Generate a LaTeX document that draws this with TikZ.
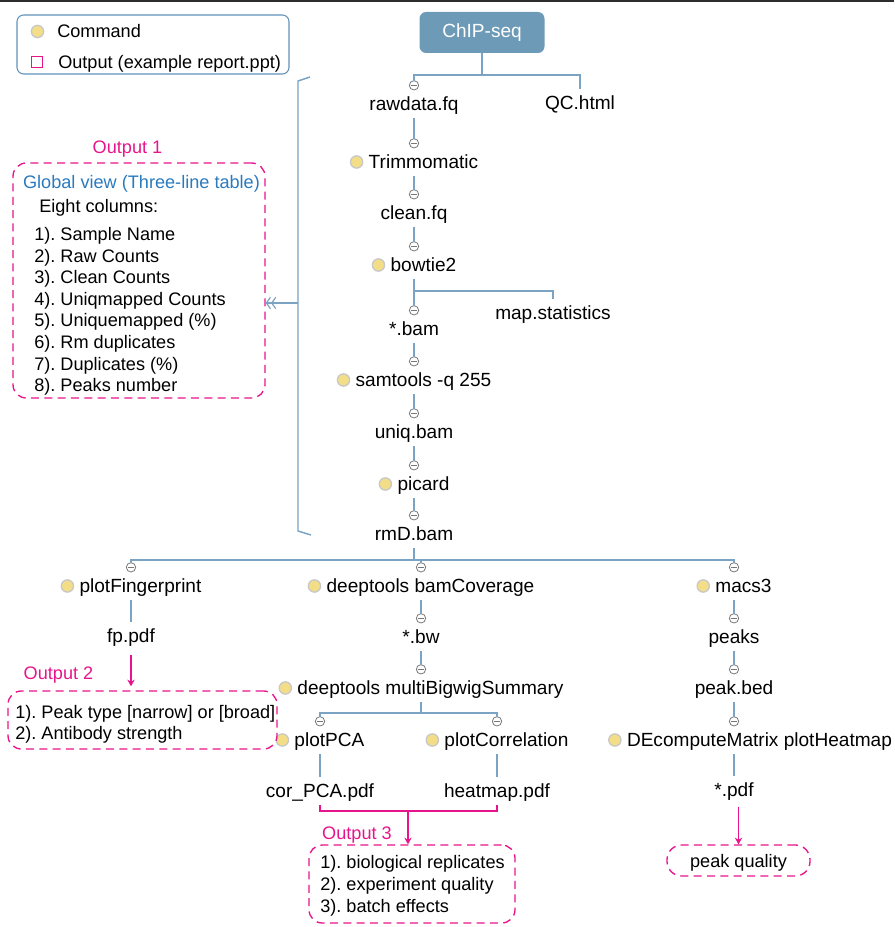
\documentclass[tikz,border=0pt]{standalone}
\usepackage{fontspec}
\setmainfont{Liberation Sans}
\usetikzlibrary{arrows.meta, positioning}
\definecolor{lineblue}{RGB}{122,163,196}
\definecolor{rootblue}{RGB}{109,154,183}
\definecolor{legblue}{RGB}{96,146,186}
\definecolor{foldgray}{RGB}{120,120,120}
\definecolor{dotyellow}{RGB}{243,222,135}
\definecolor{dotgray}{RGB}{200,200,200}
\definecolor{outpink}{RGB}{232,20,140}
\definecolor{titleblue}{RGB}{42,122,190}
\definecolor{rulegray}{RGB}{45,45,45}
\newcommand*{\cmdtext}[1]{\tikz[baseline={(0pt,-5pt)}]\node[dot]{};\hspace{4pt}#1}
\frenchspacing

\begin{document}
\begin{tikzpicture}[x=0.75pt, y=-0.75pt, on grid,
    every node/.style={font=\fontsize{14.3}{17}\selectfont},
    leaf/.style={inner sep=0pt, text height=10pt, text depth=0pt, outer ysep=5.5pt},
    fold/.style={circle, draw=foldgray, fill=white, line width=0.6pt, minimum size=7pt,
      inner sep=0pt, outer sep=0pt, text height=0pt, text depth=0pt,
      path picture={\draw[foldgray, line width=0.6pt] ([xshift=-2.4pt]path picture bounding box.center)
        -- ([xshift=2.4pt]path picture bounding box.center);}},
    dot/.style={circle, fill=dotyellow, draw=dotgray, line width=1pt, minimum size=9.2pt,
      inner sep=0pt, text height=0pt, text depth=0pt},
    conn/.style={draw=lineblue, line width=1.1pt},
    outbox/.style={draw=outpink, line width=1pt, dash pattern=on 6pt off 4pt, rounded corners=10pt, inner sep=0pt},
    outtag/.style={text=outpink, inner sep=0pt, font=\fontsize{13.6}{16}\selectfont},
    toout/.style={draw=outpink, line width=0.9pt, -{Stealth[length=5pt,width=5.5pt]}},
    boxtxt/.style={inner sep=0pt, anchor=west, text height=10pt, text depth=0pt, font=\fontsize{13.6}{16}\selectfont}]
  \useasboundingbox (0,0) rectangle (894,927);
  \draw[line width=1.8pt, rulegray] (0,1.2) -- (894,1.2);

  % legend
  \node[draw=legblue, line width=0.8pt, rounded corners=5pt, minimum width=204pt, minimum height=44.25pt, inner sep=0pt] (legend) at (153,44.5) {};
  \node[dot] (l_dot) at (37.5,31.5) {};
  \node[boxtxt] (l_cmd) at (57,31) {Command};
  \node[draw=outpink, line width=0.7pt, minimum size=8pt, inner sep=0pt] (l_sq) at (37,62) {};
  \node[boxtxt] (l_out) at (58,62) {Output (example report.ppt)};

  % main column
  \node[fill=rootblue, rounded corners=5pt, minimum width=93.75pt, minimum height=30.75pt, inner sep=0pt, text=white] (root) at (482,32.5) {ChIP-seq};
  \node[leaf] (n_raw)   at (414,104) {rawdata.fq};
  \node[leaf] (n_qc)    at (580,103) {QC.html};
  \node[leaf] (n_trim)  at (414,162) {\cmdtext{Trimmomatic}};
  \node[leaf] (n_clean) at (414,213) {clean.fq};
  \node[leaf] (n_bt)    at (414,265) {\cmdtext{bowtie2}};
  \node[leaf] (n_map)   at (553,313) {map.statistics};
  \node[leaf] (n_bam)   at (414,329) {*.bam};
  \node[leaf] (n_sam)   at (414,380) {\cmdtext{samtools -q 255}};
  \node[leaf] (n_uniq)  at (414,432) {uniq.bam};
  \node[leaf] (n_pic)   at (414,484) {\cmdtext{picard}};
  \node[leaf] (n_rmd)   at (414,534) {rmD.bam};

  % three branches
  \node[leaf] (n_fpr)    at (131,586) {\cmdtext{plotFingerprint}};
  \node[leaf] (n_fp)     at (131,636) {fp.pdf};
  \node[leaf] (n_cov)    at (421,586) {\cmdtext{deeptools bamCoverage}};
  \node[leaf] (n_bw)     at (421,637) {*.bw};
  \node[leaf] (n_mbs)    at (421,688) {\cmdtext{deeptools multiBigwigSummary}};
  \node[leaf] (n_pca)    at (320,740) {\cmdtext{plotPCA}};
  \node[leaf] (n_corpca) at (320,791) {cor\_PCA.pdf};
  \node[leaf] (n_pcor)   at (497,740) {\cmdtext{plotCorrelation}};
  \node[leaf] (n_heat)   at (497,791) {heatmap.pdf};
  \node[leaf] (n_mac)    at (734,586) {\cmdtext{macs3}};
  \node[leaf] (n_peaks)  at (734,637) {peaks};
  \node[leaf] (n_bed)    at (734,688) {peak.bed};
  \node[leaf] (n_decm)   at (750,740) {\cmdtext{DEcomputeMatrix plotHeatmap}};
  \node[leaf] (n_pdf)    at (734,790) {*.pdf};

  % fold marks
  \foreach \n in {raw,trim,clean,bt,bam,sam,uniq,pic,rmd,fpr,cov,bw,mbs,pca,pcor,mac,peaks,bed}
    \node[fold, above=14pt of n_\n] (f_\n) {};
  \node[fold, above left=14pt and 12pt of n_decm] (f_decm) {};

  % connectors
  \coordinate (j_root) at (482,75);
  \draw[conn] (root) -- (j_root) -| (f_raw);
  \draw[conn] (j_root) -| (n_qc);
  \path[conn] (n_raw) edge (f_trim) (n_trim) edge (f_clean) (n_clean) edge (f_bt)
    (n_bt) edge (f_bam) (n_bam) edge (f_sam) (n_sam) edge (f_uniq)
    (n_uniq) edge (f_pic) (n_pic) edge (f_rmd);
  \coordinate (j_bt) at (414,291);
  \draw[conn] (j_bt) -| (n_map);
  \coordinate (j_rmd) at (414,560);
  \draw[conn] (n_rmd) -- (j_rmd);
  \draw[conn] (f_fpr) |- (j_rmd) -| (f_mac);
  \draw[conn] (j_rmd -| f_cov) -- (f_cov);
  \path[conn] (n_fpr) edge (n_fp) (n_cov) edge (f_bw) (n_bw) edge (f_mbs)
    (n_pca) edge (n_corpca) (n_pcor) edge (n_heat)
    (n_mac) edge (f_peaks) (n_peaks) edge (f_bed) (n_bed) edge (f_decm);
  \draw[conn] (n_decm.south -| n_pdf) -- (n_pdf);
  \coordinate (j_mbs) at (421,713);
  \draw[conn] (n_mbs) -- (j_mbs);
  \draw[conn] (f_pca) |- (j_mbs) -| (f_pcor);

  % bracket to output 1
  \coordinate (b_tick1) at (310,77);
  \coordinate (b_top) at (298,81);
  \coordinate (b_bot) at (298,531);
  \coordinate (b_tick2) at (311,535);
  \coordinate (b_mid) at (298,303);
  \draw[conn] (b_tick1) -- (b_top) -- (b_bot) -- (b_tick2);

  % output 1
  \node[outtag] (t_out1) at (127.5,149) {Output 1};
  \node[outbox, minimum width=189pt, minimum height=176.25pt] (o1box) at (139,280.5) {};
  \draw[conn, line width=0.9pt, -{Straight Barb[length=3pt,width=8.5pt] Straight Barb[length=3pt,width=8.5pt]}] (b_mid) -- (b_mid -| o1box.east);
  \node[boxtxt, anchor=center, text=titleblue] (o1_title) at (141.5,182) {Global view (Three-line table)};
  \node[boxtxt] (o1_head) at (39,206) {Eight columns:};
  \foreach \t [count=\i] in {Sample Name, Raw Counts, Clean Counts, Uniqmapped Counts,
      Uniquemapped (\%), Rm duplicates, Duplicates (\%), Peaks number}
    \node[boxtxt] (o1_\i) at (34,{234+21.57*(\i-1)}) {\i). \t};

  % output 2
  \node[outtag] (t_out2) at (58.5,675) {Output 2};
  \node[outbox, minimum width=201.75pt, minimum height=43.5pt] (o2box) at (142.5,720) {};
  \draw[toout, shorten <=4pt, shorten >=3pt] (n_fp) -- (n_fp |- o2box.north);
  \node[boxtxt] (o2_1) at (15,712) {1). Peak type [narrow] or [broad]};
  \node[boxtxt] (o2_2) at (15,733) {2). Antibody strength};

  % output 3
  \draw[draw=outpink, line width=0.9pt] (n_corpca.south) -- ++(0,6) -| (n_heat.south);
  \coordinate (j_out3) at (408,811);
  \node[outtag] (t_out3) at (357,835) {Output 3};
  \node[outbox, minimum width=154.5pt, minimum height=58.5pt] (o3box) at (412,884) {};
  \draw[toout] (j_out3) -- (j_out3 |- o3box.north);
  \node[boxtxt] (o3_1) at (320,862) {1). biological replicates};
  \node[boxtxt] (o3_2) at (320,884) {2). experiment quality};
  \node[boxtxt] (o3_3) at (320,906) {3). batch effects};

  % peak quality
  \node[outbox, rounded corners=11pt, minimum width=107.25pt, minimum height=23.25pt,
    text height=10pt, text depth=0pt, font=\fontsize{13.6}{16}\selectfont] (peakq) at (738.5,860.5) {peak quality};
  \draw[toout, shorten <=2pt] (n_pdf.south -| peakq) -- (peakq);
\end{tikzpicture}
\end{document}
